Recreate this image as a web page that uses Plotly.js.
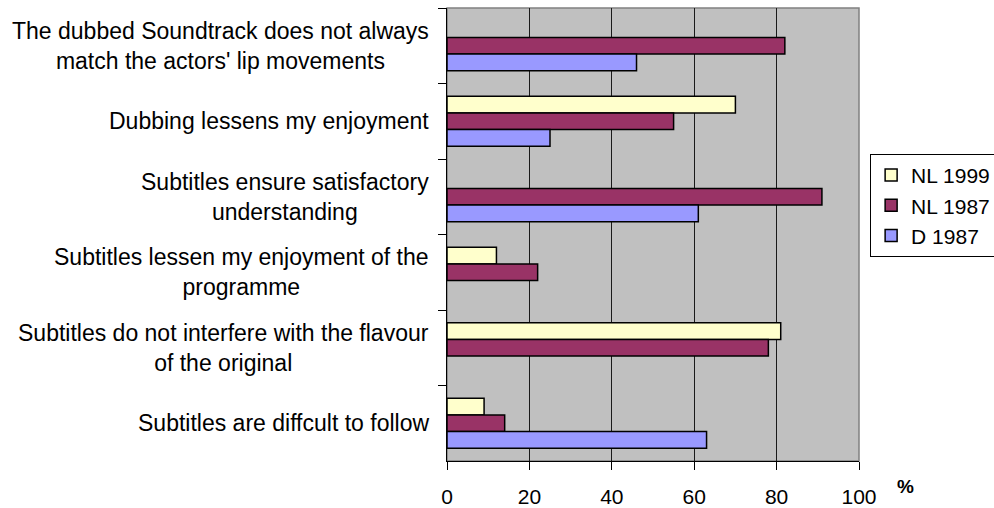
<!DOCTYPE html>
<html>
<head>
<meta charset="utf-8">
<script src="https://cdn.plot.ly/plotly-3.0.1.min.js"></script>
<style>
  html, body { margin: 0; padding: 0; background: #fff; }
  #chart { width: 994px; height: 508px; }
</style>
</head>
<body>
<div id="chart"></div>
<script>
// Survey statements (top to bottom)
var statements = [
  "The dubbed Soundtrack does not always<br>match the actors' lip movements",
  "Dubbing lessens my enjoyment",
  "Subtitles ensure satisfactory<br>understanding",
  "Subtitles lessen my enjoyment of the<br>programme",
  "Subtitles do not interfere with the flavour<br>of the original",
  "Subtitles are diffcult to follow"
];

// Share of respondents agreeing, in %
var nl1999 = [null, 70, null, 12, 81, 9];
var nl1987 = [82, 55, 91, 22, 78, 14];
var d1987  = [46, 25, 61, null, null, 63];

var seriesNames = ["NL 1999", "NL 1987", "D 1987"];
var seriesColors = ["#FFFFCC", "#993366", "#9999FF"];
var seriesValues = [nl1999, nl1987, d1987];

var xTicks = [0, 20, 40, 60, 80, 100];
var unitLabel = "%";

var FONT = "Liberation Sans, Arial, sans-serif";

var traces = seriesValues.map(function (vals, i) {
  return {
    type: "bar",
    orientation: "h",
    name: seriesNames[i],
    x: vals,
    y: statements,
    marker: {
      color: seriesColors[i],
      line: { color: "#000000", width: 1.5 }
    },
    hoverinfo: "x+name"
  };
});

// Category labels, centred line by line to the left of the plot
var labelAnnotations = statements.map(function (s) {
  return {
    xref: "paper", yref: "y",
    x: 0, y: s,
    xanchor: "right", yanchor: "middle",
    xshift: -16,
    align: "center",
    showarrow: false,
    text: s,
    font: { family: FONT, size: 23, color: "#000" }
  };
});

labelAnnotations.push({
  xref: "paper", yref: "paper",
  x: 1.112, y: -0.057,
  xanchor: "center", yanchor: "middle",
  showarrow: false,
  text: "<b>" + unitLabel + "</b>",
  font: { family: FONT, size: 19, color: "#000" }
});

var layout = {
  width: 994,
  height: 508,
  margin: { l: 447, r: 135, t: 8, b: 47, pad: 0, autoexpand: false },
  paper_bgcolor: "#FFFFFF",
  plot_bgcolor: "#C0C0C0",
  font: { family: FONT, color: "#000" },
  barmode: "group",
  bargap: 0.338,
  bargroupgap: 0,
  showlegend: true,
  legend: {
    x: 1.027, xanchor: "left",
    y: 0.678, yanchor: "top",
    bgcolor: "#FFFFFF",
    bordercolor: "#000000",
    borderwidth: 1,
    font: { family: FONT, size: 21, color: "#000" },
    itemwidth: 30
  },
  xaxis: {
    range: [0, 100],
    tickvals: xTicks,
    ticktext: xTicks.map(String),
    ticks: "outside",
    ticklen: 8,
    tickcolor: "#000",
    tickwidth: 1,
    showline: true,
    linecolor: "#000",
    linewidth: 1,
    showgrid: true,
    gridcolor: "#1a1a1a",
    gridwidth: 1.2,
    zeroline: false,
    ticklabelstandoff: 9,
    tickfont: { family: FONT, size: 21, color: "#000" },
    fixedrange: true
  },
  yaxis: {
    type: "category",
    categoryorder: "array",
    categoryarray: statements,
    autorange: "reversed",
    tickson: "boundaries",
    ticks: "outside",
    ticklen: 8,
    tickcolor: "#000",
    tickwidth: 1,
    showticklabels: false,
    showline: true,
    linecolor: "#000",
    linewidth: 1.5,
    showgrid: false,
    zeroline: false,
    fixedrange: true
  },
  shapes: [{
    type: "rect", xref: "paper", yref: "paper",
    x0: 0, x1: 1, y0: 0, y1: 1,
    line: { color: "#808080", width: 1.5 },
    layer: "below"
  }],
  annotations: labelAnnotations
};

Plotly.newPlot("chart", traces, layout, { displayModeBar: false, staticPlot: true });
</script>
</body>
</html>
